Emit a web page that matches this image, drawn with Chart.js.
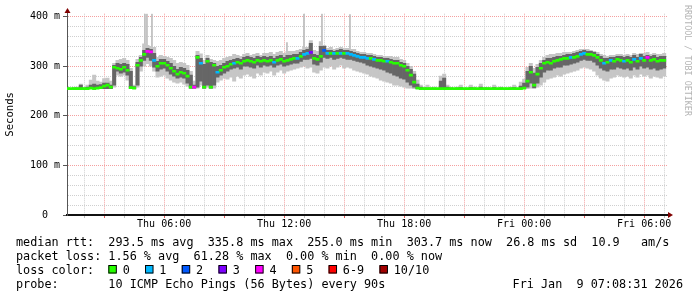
<!DOCTYPE html>
<html>
<head>
<meta charset="utf-8">
<title>smokeping</title>
<script src="https://cdn.jsdelivr.net/npm/chart.js@4.4.1/dist/chart.umd.min.js"></script>
<style>
  html, body { margin: 0; padding: 0; background: #fff; }
  #wrap { width: 697px; height: 297px; }
</style>
</head>
<body>
<div id="wrap"><canvas id="smoke" width="697" height="297"></canvas></div>
<script>
// time axis: hours since Thu 00:00, window ends Fri 07:08:31
const startHour = 1 + 8 / 60 + 31 / 3600
const endHour = startHour + 30
const stepHours = 1 / 6   // one consolidated value every 10 min

const hourTicks = [2,3,4,5,6,7,8,9,10,11,12,13,14,15,16,17,18,19,20,21,22,23,24,25,26,27,28,29,30,31]
const hourLabels = { 6: 'Thu 06:00', 12: 'Thu 12:00', 18: 'Thu 18:00', 24: 'Fri 00:00', 30: 'Fri 06:00' }
const yTicks = [0,20,40,60,80,100,120,140,160,180,200,220,240,260,280,300,320,340,360,380,400]

// median rtt (ms), 6 values per hour, first line 01:10-02:00
const median = [
  255,255,255,255,255,255,
  255,256,255,256,257,260,
  262,258,298,296,294,298,
  292,257,256,302,312,324,
  330,329,312,300,306,306,
  302,296,290,284,288,286,
  280,258,258,318,306,258,
  310,258,302,288,292,298,
  300,304,306,308,306,310,
  312,310,308,312,310,312,
  310,312,308,312,314,310,
  312,314,316,316,320,324,
  326,328,316,314,320,332,
  326,326,326,326,326,326,
  326,324,322,320,318,318,
  316,316,314,312,312,310,
  310,308,306,306,302,300,
  292,282,268,256,255,255,
  255,255,255,255,255,255,
  255,255,255,255,255,255,
  255,255,255,255,255,255,
  255,255,255,255,255,255,
  255,255,255,255,255,256,
  270,288,262,284,296,306,
  308,306,310,312,314,316,
  316,318,318,320,324,326,
  324,324,322,318,312,306,
  308,312,310,314,312,310,
  312,308,314,310,316,312,
  318,312,314,310,312,312
]

// lost pings out of 10 for each median value
const loss = [
  0,0,0,0,0,0,
  0,0,0,0,0,0,
  0,0,0,0,0,0,
  0,0,0,0,0,0,
  4,4,1,0,0,0,
  0,0,0,0,0,0,
  0,0,4,0,1,0,
  0,0,0,1,0,0,
  0,0,1,0,0,0,
  0,0,0,0,0,0,
  0,0,1,0,0,0,
  0,0,0,1,0,1,
  1,3,0,0,0,2,
  1,0,1,0,1,0,
  1,1,1,1,1,1,
  1,0,1,0,0,0,
  1,0,0,0,0,0,
  0,0,0,0,0,0,
  0,0,0,0,0,0,
  0,0,0,0,0,0,
  0,0,0,0,0,0,
  0,0,0,0,0,0,
  0,0,0,0,0,0,
  0,0,0,0,0,0,
  0,0,0,0,0,0,
  0,1,0,0,1,1,
  0,0,0,0,0,1,
  0,1,0,0,0,1,
  0,0,1,0,1,0,
  4,0,0,0,0,0
]

// smoke: lowest and highest ping of each step
const smokeLo = [
  255,255,255,255,255,255,
  255,255,255,255,255,255,
  255,255,258,282,280,282,
  272,255,255,258,290,300,
  305,300,290,278,280,282,
  276,272,268,266,268,264,
  260,255,255,256,262,255,
  258,255,256,268,272,276,
  274,278,270,280,276,282,
  284,280,276,286,282,288,
  286,290,282,288,292,286,
  290,292,294,296,298,300,
  296,298,288,286,292,298,
  296,300,294,298,302,296,
  298,296,292,290,288,286,
  284,280,278,276,272,270,
  268,266,262,262,260,258,
  256,256,255,255,255,255,
  255,255,255,255,255,255,
  255,255,255,255,255,255,
  255,255,255,255,255,255,
  255,255,255,255,255,255,
  255,255,255,255,255,255,
  255,256,255,258,262,268,
  274,276,278,282,280,284,
  286,288,290,292,296,298,
  296,294,290,282,276,272,
  270,276,278,282,280,278,
  280,276,282,278,284,280,
  282,276,280,278,276,280
]
const smokeHi = [
  256,255,257,258,264,257,
  262,272,282,270,268,275,
  276,270,306,312,314,316,
  312,296,262,314,322,345,
  342,340,338,318,322,320,
  318,316,312,306,308,306,
  302,290,270,330,325,312,
  322,314,312,310,312,316,
  318,320,324,322,320,324,
  326,322,324,326,322,326,
  326,328,324,328,330,326,
  330,330,330,332,334,338,
  338,352,332,330,350,342,
  336,338,334,336,338,336,
  336,334,334,330,328,328,
  326,326,324,322,322,320,
  320,320,318,318,314,312,
  306,300,290,272,262,258,
  262,256,258,256,280,284,
  262,257,256,258,262,256,
  256,262,258,256,264,257,
  257,256,262,256,258,256,
  256,258,262,256,268,274,
  298,306,296,304,312,318,
  322,324,324,326,326,328,
  328,328,330,332,334,334,
  334,332,330,328,324,322,
  320,322,322,324,324,322,
  324,322,326,324,326,326,
  328,324,326,324,324,326
]

// dense core of the smoke
const coreLo = [
  255,255,255,255,255,255,
  255,255,255,255,255,255,
  255,255,262,290,286,288,
  282,256,255,262,300,312,
  318,312,298,290,294,296,
  290,284,280,276,278,276,
  266,256,256,258,270,256,
  262,256,262,278,282,286,
  290,294,296,298,294,300,
  300,298,296,302,298,302,
  300,302,298,302,304,300,
  302,304,306,306,310,314,
  314,316,304,302,308,318,
  316,318,314,316,318,316,
  314,314,312,310,308,306,
  302,300,298,296,294,292,
  288,286,282,280,276,274,
  268,262,258,255,255,255,
  255,255,255,255,255,255,
  255,255,255,255,255,255,
  255,255,255,255,255,255,
  255,255,255,255,255,255,
  255,255,255,255,255,255,
  258,266,257,266,278,288,
  292,292,296,298,298,302,
  302,304,306,308,312,314,
  312,312,308,302,296,292,
  290,294,294,298,296,294,
  296,292,298,294,300,296,
  298,294,296,292,294,296
]
const coreHi = [
  256,255,256,256,262,256,
  258,262,264,262,263,266,
  266,262,302,306,304,306,
  304,290,259,308,318,332,
  336,334,326,310,314,314,
  310,306,300,294,298,296,
  292,282,262,322,316,304,
  316,308,306,300,302,306,
  310,312,314,316,314,318,
  320,318,316,320,318,320,
  318,320,316,320,322,318,
  322,322,324,324,328,332,
  334,346,324,322,340,340,
  332,332,330,332,334,332,
  332,330,328,326,324,324,
  322,322,320,318,318,316,
  316,314,312,312,308,306,
  300,294,284,264,258,256,
  256,256,255,255,270,276,
  258,256,255,256,257,255,
  255,257,256,255,258,256,
  256,255,257,255,256,255,
  255,256,257,255,260,266,
  290,300,286,298,306,312,
  316,316,318,320,320,322,
  324,324,326,328,330,332,
  330,330,328,324,320,316,
  316,318,318,320,320,318,
  320,318,322,318,324,320,
  322,320,322,318,320,320
]

// single slow pings reaching far above the smoke
const spikeHours = [5.04, 5.14, 5.39, 12.14, 12.99, 13.89, 15.29]
const spikeBase = [318, 318, 318, 322, 326, 330, 326]
const spikeTop = [406, 406, 406, 348, 406, 406, 404]

const lossColors = ['#26ff00', '#00b8ff', '#0059ff', '#7e00ff', '#ff00ff', '#ff5500', '#ff0000', '#a10000']
const lossLabels = ['0', '1', '2', '3', '4', '5', '6-9', '10/10']

const legendLines = [
  'median rtt:  293.5 ms avg  335.8 ms max  255.0 ms min  303.7 ms now  26.8 ms sd  10.9   am/s',
  'packet loss: 1.56 % avg  61.28 % max  0.00 % min  0.00 % now',
  'loss color:',
  'probe:       10 ICMP Echo Pings (56 Bytes) every 90s'
]
const stampText = 'Fri Jan  9 07:08:31 2026'

const mono = '"DejaVu Sans Mono", monospace'
const minorGrid = '#cfcfcf'
const majorGrid = '#f4a0a0'

const timeOf = i => 1 + (i + 1) * stepHours
const lossIndex = n => n >= 10 ? 7 : (n >= 6 ? 6 : n)

const lightSmoke = median.map((m, i) => ({ x: timeOf(i), y: [smokeLo[i], smokeHi[i]] }))
const darkSmoke = median.map((m, i) => ({ x: timeOf(i), y: [coreLo[i], coreHi[i]] }))
const medianBars = median.map((m, i) => ({ x: timeOf(i), y: [m - 2, m + 2] }))
const spikeBars = spikeHours.map((h, i) => ({ x: h, y: [spikeBase[i], spikeTop[i]] }))

const barBase = { barPercentage: 1, categoryPercentage: 1, borderWidth: 0, grouped: false }

const rrdDecor = {
  id: 'rrdDecor',
  afterDraw(chart) {
    const ctx = chart.ctx
    const area = chart.chartArea
    ctx.save()

    // axis arrows
    ctx.fillStyle = '#800000'
    ctx.beginPath()
    ctx.moveTo(area.right + 1, area.bottom - 3)
    ctx.lineTo(area.right + 6, area.bottom)
    ctx.lineTo(area.right + 1, area.bottom + 3)
    ctx.fill()
    ctx.strokeStyle = '#555'
    ctx.lineWidth = 1
    ctx.beginPath()
    ctx.moveTo(area.left + 0.5, area.top)
    ctx.lineTo(area.left + 0.5, 12)
    ctx.stroke()
    ctx.beginPath()
    ctx.moveTo(area.left - 2.5, 13)
    ctx.lineTo(area.left + 0.5, 8)
    ctx.lineTo(area.left + 3.5, 13)
    ctx.fill()

    // legend
    ctx.font = '11.8px ' + mono
    ctx.fillStyle = '#000'
    ctx.textBaseline = 'alphabetic'
    const cw = ctx.measureText('0').width
    legendLines.forEach((line, k) => ctx.fillText(line, 16, 245.7 + 14 * k))
    ctx.textAlign = 'right'
    ctx.fillText(stampText, 683, 245.7 + 14 * 3)
    ctx.textAlign = 'left'

    let sx = 16 + 13 * cw
    lossLabels.forEach((lab, k) => {
      ctx.fillStyle = lossColors[k]
      ctx.fillRect(sx, 265.5, 8, 8)
      ctx.strokeStyle = '#000'
      ctx.strokeRect(sx + 0.5, 265.5, 7.5, 7.5)
      ctx.fillStyle = '#000'
      const lx = sx + 14.3
      ctx.fillText(lab, lx, 273.7)
      sx = lx + lab.length * cw + 15.3
    })

    // watermark
    ctx.translate(687, 5)
    ctx.rotate(Math.PI / 2)
    ctx.font = '8.4px ' + mono
    ctx.fillStyle = '#b4b4b4'
    ctx.textBaseline = 'middle'
    ctx.fillText('RRDTOOL / TOBI OETIKER', 0, 0)
    ctx.restore()
  }
}

new Chart(document.getElementById('smoke'), {
  type: 'bar',
  data: {
    datasets: [
      { label: 'median', data: medianBars, order: 1, ...barBase,
        backgroundColor: loss.map(n => lossColors[lossIndex(n)]) },
      { label: 'core', data: darkSmoke, order: 2, ...barBase, backgroundColor: '#666666' },
      { label: 'smoke', data: lightSmoke, order: 3, ...barBase, backgroundColor: '#c6c6c6' },
      { label: 'spikes', data: spikeBars, order: 4, xAxisID: 'xs', grouped: false, borderWidth: 0,
        barThickness: 1, backgroundColor: '#bcbcbc' }
    ]
  },
  options: {
    responsive: false,
    animation: false,
    layout: { padding: { top: 13.7, right: 30, left: 0, bottom: 0 } },
    plugins: { legend: { display: false }, tooltip: { enabled: false } },
    scales: {
      x: {
        type: 'linear',
        offset: false,
        min: startHour,
        max: endHour,
        afterBuildTicks: s => { s.ticks = hourTicks.map(v => ({ value: v })) },
        afterFit: s => { s.height = 82 },
        ticks: {
          autoSkip: false, maxRotation: 0, padding: 0, color: '#000',
          font: { family: mono, size: 10 },
          callback: v => hourLabels[v] || ''
        },
        grid: {
          offset: false,
          color: c => (c.tick && c.tick.value % 3 === 0) ? majorGrid : minorGrid,
          tickColor: c => (c.tick && c.tick.value % 3 === 0) ? '#e06060' : '#bbbbbb',
          tickLength: 3,
          lineWidth: 1
        },
        border: { display: true, color: '#111', width: 2, dash: [1, 1] }
      },
      xs: {
        type: 'linear',
        display: false,
        offset: false,
        min: startHour,
        max: endHour
      },
      y: {
        min: 0,
        max: 406,
        afterBuildTicks: s => { s.ticks = yTicks.map(v => ({ value: v })) },
        afterFit: s => { s.width = 67 },
        ticks: {
          autoSkip: false, padding: 3, color: '#000',
          font: { family: mono, size: 10 },
          callback: v => v % 100 === 0 ? (v === 0 ? '0  ' : v + ' m') : ''
        },
        grid: {
          color: c => (c.tick && c.tick.value % 100 === 0) ? majorGrid : minorGrid,
          tickColor: c => (c.tick && c.tick.value % 100 === 0) ? '#555' : 'rgba(0,0,0,0)',
          tickLength: 4,
          lineWidth: 1
        },
        border: { display: true, color: '#555', width: 1, dash: [1, 1] },
        title: {
          display: true, text: 'Seconds', color: '#000',
          font: { family: mono, size: 10.6 },
          padding: { top: 4, bottom: 0 }
        }
      }
    }
  },
  plugins: [rrdDecor]
})
</script>
</body>
</html>
